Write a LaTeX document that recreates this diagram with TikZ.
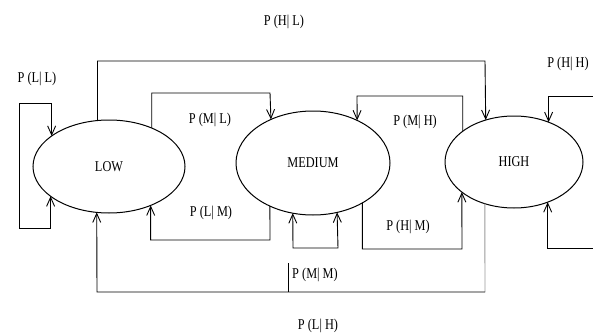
\documentclass[tikz,border=0pt]{standalone}
\usepackage{fontspec}
\setmainfont{Liberation Serif}
\usepackage{graphicx}
\usetikzlibrary{shapes.geometric,arrows.meta}
\newcommand{\lbl}[1]{\scalebox{0.82}[1]{#1}}
\begin{document}
\begin{tikzpicture}[x=1pt,y=1pt,
  >={Straight Barb[length=9pt,width=8pt]},
  line width=0.9pt,
  state/.style={draw, ellipse, inner sep=0pt, outer sep=0pt, line width=1pt, font=\fontsize{15}{17}\selectfont},
  lab/.style={inner sep=0pt, font=\fontsize{15}{17}\selectfont},
  conn/.style={draw, line width=0.9pt, black}]
\useasboundingbox (0,0) rectangle (593,-334);
% states
\node[state, minimum width=152pt, minimum height=93pt] (low) at (109,-166.5) {\lbl{LOW}};
\node[state, minimum width=154pt, minimum height=104pt] (med) at (313,-163) {\lbl{MEDIUM}};
\node[state, minimum width=138pt, minimum height=92pt] (high) at (514,-162) {\lbl{HIGH}};
% corner coordinates
\coordinate (llA) at (19,-103);
\coordinate (llB) at (19,-228);
\coordinate (hlB) at (485,-61);
\coordinate (mlB) at (270,-93);
\coordinate (lmB) at (270,-240);
\coordinate (mmA) at (293,-248);
\coordinate (mmB) at (338,-248);
\coordinate (mhB) at (357,-96);
\coordinate (hmB) at (462,-249);
\coordinate (hhA) at (593,-96);
\coordinate (hhB) at (593,-248);
\coordinate (lhB) at (485,-292);
\coordinate (lhA) at (97,-292);
\coordinate (st1) at (288,-263);
\coordinate (st2) at (288,-292);
% connectors
\draw[conn,<->] (low.207.4) |- (llB) -- (llA) -| (low.152.6);
\draw[conn,->] (low.104.65) |- (hlB) -- (high.124.8);
\draw[conn,->] (low.42.7) |- (mlB) -- (med.134.9);
\draw[conn,->] (med.225.1) -- (lmB) -| (low.317.3);
\draw[conn,<->] (med.248.3) -- (mmA) -- (mmB) -- (med.296.9);
\draw[conn,->] (high.149.9) |- (mhB) -- (med.44.1);
\draw[conn,->] (med.321.7) |- (hmB) -- (high.210.1);
\draw[conn,->] (hhA) -| (high.49.6);
\draw[conn,->] (hhB) -| (high.310.4);
\draw[conn,black!40] (high.235.2) -- (lhB);
\draw[conn,->] (lhB) -- (lhA) -- (low.255.35);
\draw[conn,line width=0.5pt] (st1) -- (st2);
% labels
\node[lab] (tLL) at (37,-79) {\lbl{P (L| L)}};
\node[lab] (tHL) at (284,-22) {\lbl{P (H| L)}};
\node[lab] (tHH) at (568,-64) {\lbl{P (H| H)}};
\node[lab] (tML) at (210,-120) {\lbl{P (M| L)}};
\node[lab] (tLM) at (211,-213) {\lbl{P (L| M)}};
\node[lab] (tMH) at (415,-122) {\lbl{P (M| H)}};
\node[lab] (tHM) at (408,-227) {\lbl{P (H| M)}};
\node[lab] (tMM) at (315,-275) {\lbl{P (M| M)}};
\node[lab] (tLH) at (318,-326) {\lbl{P (L| H)}};
\end{tikzpicture}
\end{document}
